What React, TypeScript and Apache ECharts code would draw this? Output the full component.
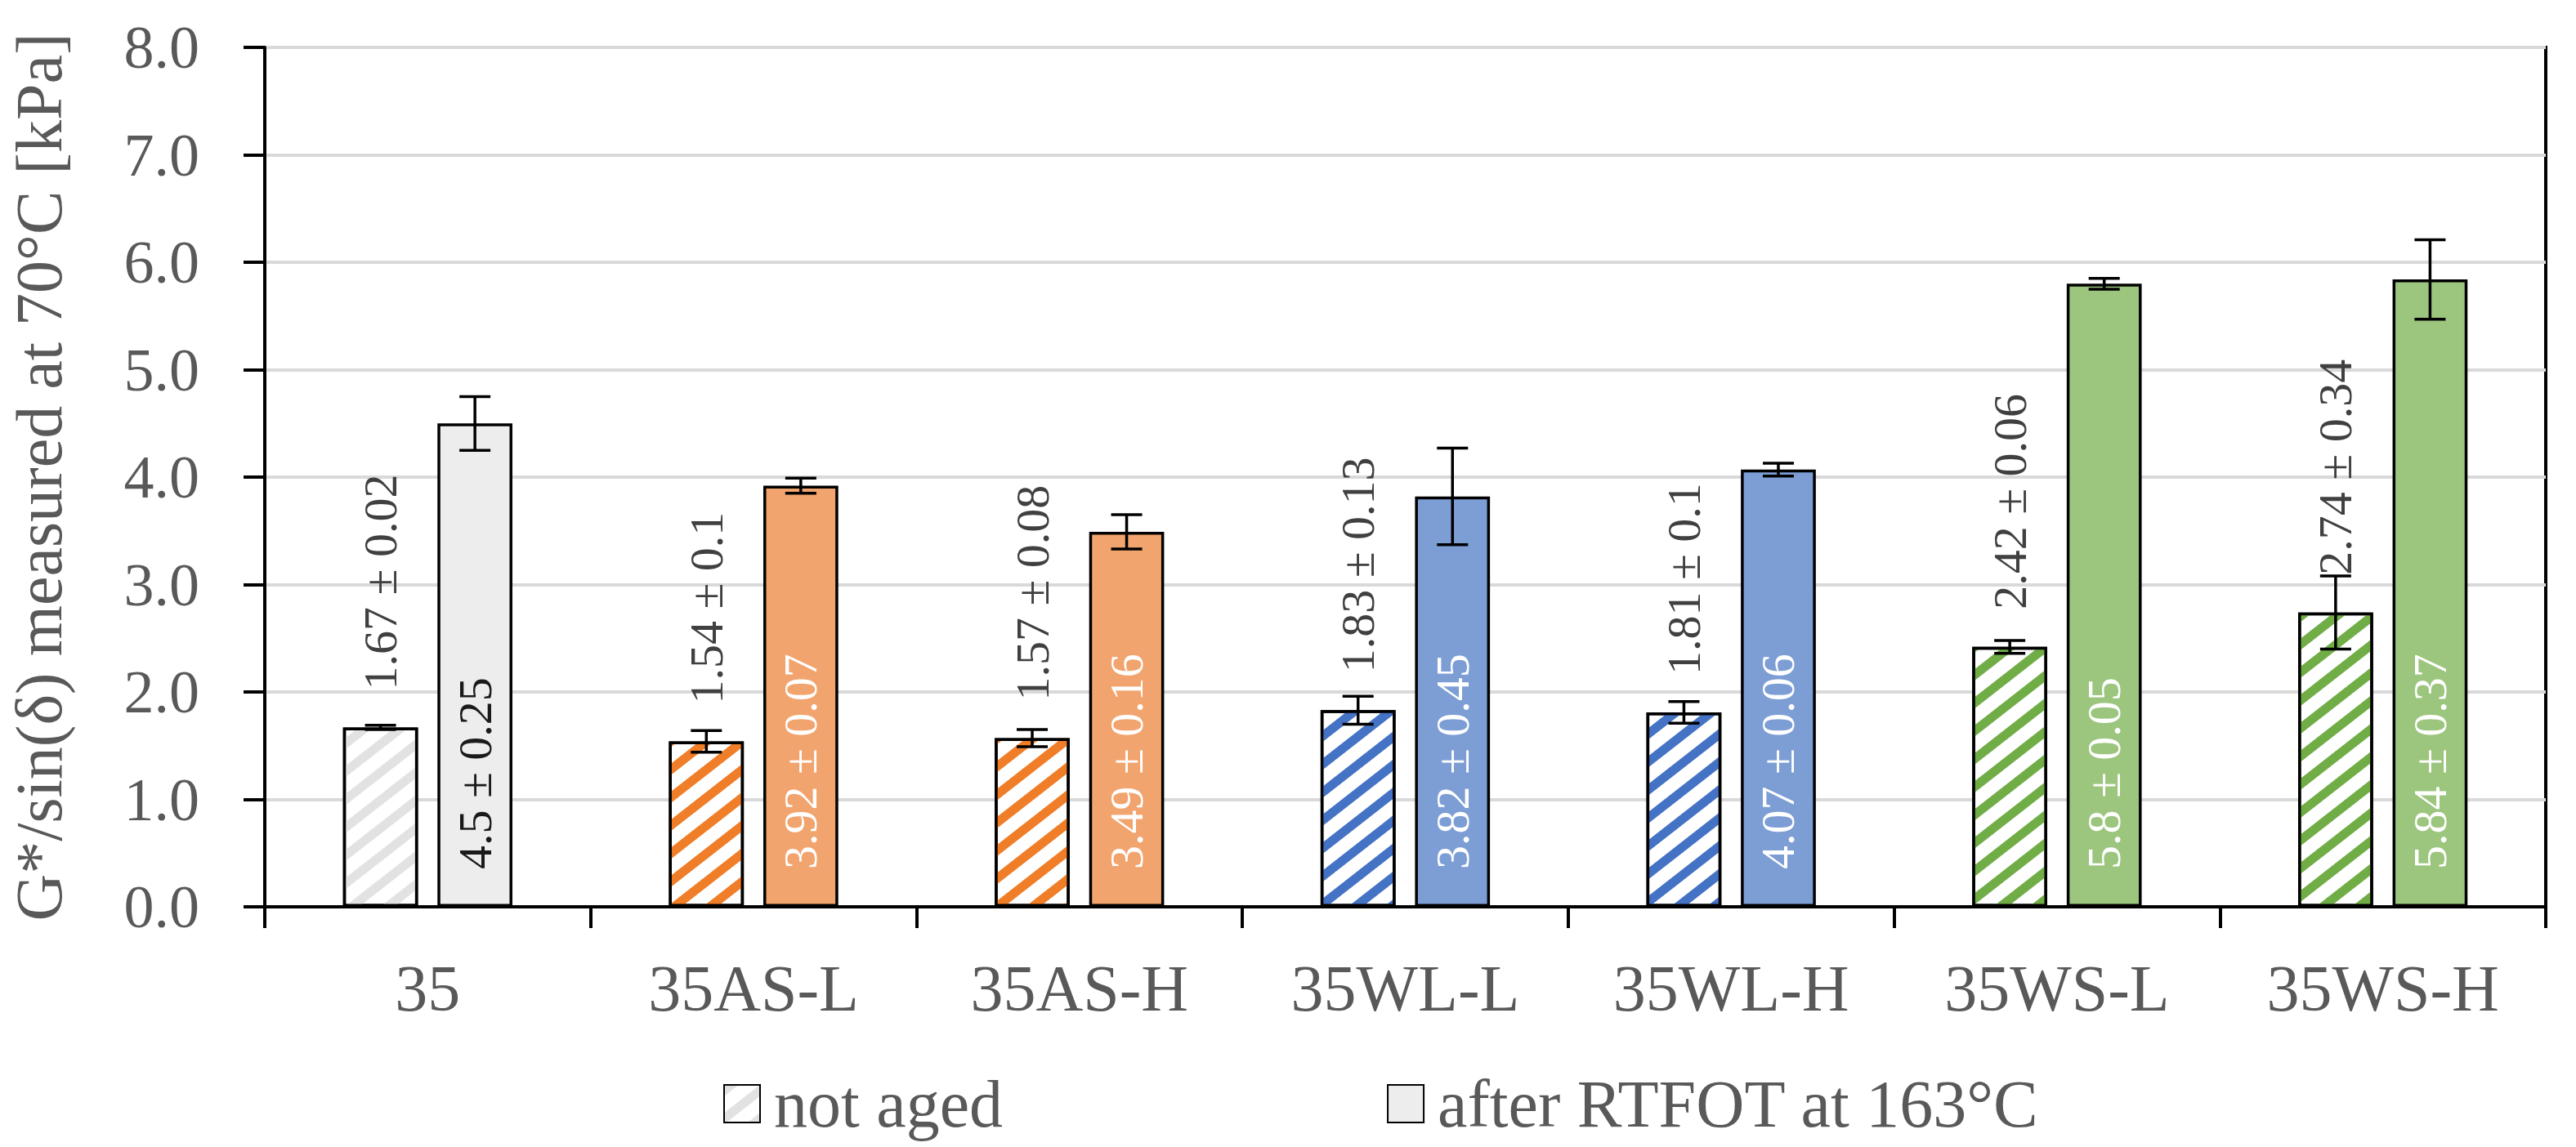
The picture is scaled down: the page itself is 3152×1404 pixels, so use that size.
import React, { useEffect, useRef } from "react";
import * as echarts from "echarts";

const categories = ["35", "35AS-L", "35AS-H", "35WL-L", "35WL-H", "35WS-L", "35WS-H"];
const notAgedValues = [1.67, 1.54, 1.57, 1.83, 1.81, 2.42, 2.74];
const notAgedErrors = [0.02, 0.1, 0.08, 0.13, 0.1, 0.06, 0.34];
const agedValues = [4.5, 3.92, 3.49, 3.82, 4.07, 5.8, 5.84];
const agedErrors = [0.25, 0.07, 0.16, 0.45, 0.06, 0.05, 0.37];
const seriesNames = ["not aged", "after RTFOT at 163°C"];
const yAxisTitle = "G*/sin(δ) measured at 70°C [kPa]";
const yMin = 0;
const yMax = 8;
const yInterval = 1;

const stripeColors = ["#E2E2E2", "#F07D27", "#F07D27", "#4472C4", "#4472C4", "#70AD47", "#70AD47"];
const agedColors = ["#EDEDED", "#F2A46E", "#F2A46E", "#7D9ED5", "#7D9ED5", "#9CC57E", "#9CC57E"];
const agedLabelColors = ["#1A1A1A", "#FFFFFF", "#FFFFFF", "#FFFFFF", "#FFFFFF", "#FFFFFF", "#FFFFFF"];

const FONT = "'Liberation Serif', 'Times New Roman', serif";
const BAR_W = 0.23;
const BAR_GAP = 0.26;
const TEXT_GRAY = "#595959";

const hatch = (color: string) => ({
  symbol: "rect",
  symbolSize: 1,
  dashArrayX: [1, 0],
  dashArrayY: [11, 16],
  rotation: (-38 * Math.PI) / 180,
  color,
});

const errorSeries = (name: string, values: number[], errors: number[], side: number) => ({
  type: "custom",
  name,
  z: 10,
  silent: true,
  data: values.map((v, i) => [i, v, errors[i]]),
  encode: { x: 0, y: 1 },
  renderItem: (params: any, api: any) => {
    const i = api.value(0);
    const v = api.value(1);
    const e = api.value(2);
    const band = api.size([1, 0])[0];
    const barW = band * BAR_W;
    const off = ((barW + barW * BAR_GAP) / 2) * side;
    const top = api.coord([i, v + e]);
    const bot = api.coord([i, v - e]);
    const x = top[0] + off;
    const half = 19;
    const style = { stroke: "#000", lineWidth: 3.5 };
    return {
      type: "group",
      children: [
        { type: "line", shape: { x1: x, y1: top[1], x2: x, y2: bot[1] }, style },
        { type: "line", shape: { x1: x - half, y1: top[1], x2: x + half, y2: top[1] }, style },
        { type: "line", shape: { x1: x - half, y1: bot[1], x2: x + half, y2: bot[1] }, style },
      ],
    };
  },
});

export default function App() {
  const ref = useRef<HTMLDivElement>(null);
  useEffect(() => {
    if (!ref.current) return;
    const chart = echarts.init(ref.current, null, { renderer: "svg" });
    const option: any = {
      animation: false,
      backgroundColor: "#fff",
      textStyle: { fontFamily: FONT },
      grid: {
        left: 324,
        right: 37,
        top: 58,
        bottom: 294,
        show: true,
        borderColor: "#000",
        borderWidth: 4,
        backgroundColor: "transparent",
      },
      legend: {
        data: seriesNames,
        left: 885,
        top: 1310,
        itemWidth: 44,
        itemHeight: 46,
        itemGap: 470,
        icon: "rect",
        padding: 0,
        textStyle: { fontSize: 82, color: TEXT_GRAY, fontFamily: FONT, padding: [0, 0, 0, 12] },
      },
      xAxis: {
        type: "category",
        data: categories,
        axisLine: { lineStyle: { color: "#000", width: 4 } },
        axisTick: { show: true, length: 26, lineStyle: { color: "#000", width: 4 } },
        axisLabel: { fontSize: 80, color: TEXT_GRAY, fontFamily: FONT, margin: 60 },
      },
      yAxis: {
        type: "value",
        min: yMin,
        max: yMax,
        interval: yInterval,
        name: yAxisTitle,
        nameLocation: "middle",
        nameGap: 236,
        nameTextStyle: { fontSize: 80, color: TEXT_GRAY, fontFamily: FONT },
        axisLine: { show: true, lineStyle: { color: "#000", width: 4 } },
        axisTick: { show: true, length: 26, lineStyle: { color: "#000", width: 4 } },
        axisLabel: {
          fontSize: 74,
          color: TEXT_GRAY,
          fontFamily: FONT,
          margin: 80,
          formatter: (v: number) => v.toFixed(1),
        },
        splitLine: { show: true, lineStyle: { color: "#D9D9D9", width: 4 } },
      },
      series: [
        {
          type: "bar",
          name: seriesNames[0],
          barWidth: `${BAR_W * 100}%`,
          barGap: `${BAR_GAP * 100}%`,
          itemStyle: {
            color: "#FFFFFF",
            borderColor: "#000",
            borderWidth: 3.5,
            decal: hatch(stripeColors[0]),
          },
          label: {
            show: true,
            position: "top",
            distance: 46,
            rotate: 90,
            align: "left",
            verticalAlign: "middle",
            fontSize: 58,
            fontFamily: FONT,
            color: "#404040",
            formatter: (p: any) => `${notAgedValues[p.dataIndex]} ± ${notAgedErrors[p.dataIndex]}`,
          },
          data: notAgedValues.map((v, i) => ({
            value: v,
            itemStyle: { color: "#FFFFFF", decal: hatch(stripeColors[i]) },
          })),
        },
        {
          type: "bar",
          name: seriesNames[1],
          barWidth: `${BAR_W * 100}%`,
          barGap: `${BAR_GAP * 100}%`,
          itemStyle: { color: agedColors[0], borderColor: "#000", borderWidth: 3.5 },
          label: {
            show: true,
            position: "insideBottom",
            distance: 46,
            rotate: 90,
            align: "left",
            verticalAlign: "middle",
            fontSize: 58,
            fontFamily: FONT,
            formatter: (p: any) => `${agedValues[p.dataIndex]} ± ${agedErrors[p.dataIndex]}`,
          },
          data: agedValues.map((v, i) => ({
            value: v,
            itemStyle: { color: agedColors[i] },
            label: { color: agedLabelColors[i] },
          })),
        },
        errorSeries("err-not-aged", notAgedValues, notAgedErrors, -1),
        errorSeries("err-aged", agedValues, agedErrors, 1),
      ],
    };
    chart.setOption(option);
    return () => chart.dispose();
  }, []);
  return (
    <div
      ref={ref}
      style={{ position: "fixed", left: 0, top: 0, width: 3152, height: 1404, background: "#fff" }}
    />
  );
}
